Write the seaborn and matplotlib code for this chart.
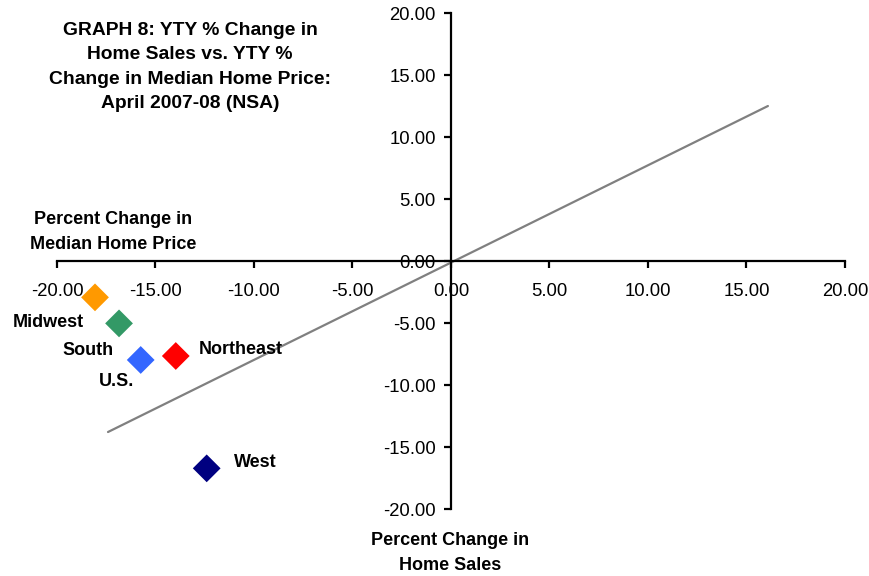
import matplotlib
matplotlib.use("Agg")
import matplotlib.pyplot as plt
import seaborn as sns
import pandas as pd

# Year-over-year % change, April 2007-08 (NSA)
regions = ["Midwest", "South", "U.S.", "Northeast", "West"]
sales_change = [-18.07, -16.85, -15.75, -13.97, -12.40]
price_change = [-2.93, -5.03, -7.98, -7.66, -16.72]
colors = ["#FF9900", "#339966", "#3366FF", "#FF0000", "#000080"]

# Trend line endpoints (sales %, price %)
trend_x = [-17.41, 16.09]
trend_y = [-13.79, 12.50]

ticks = [-20, -15, -10, -5, 0, 5, 10, 15, 20]

sns.set_theme(style="white")
plt.rcParams["font.family"] = ["Liberation Sans", "DejaVu Sans"]
plt.rcParams["text.color"] = "black"

df = pd.DataFrame({"region": regions, "sales": sales_change, "price": price_change})

fig = plt.figure(figsize=(8.7, 5.76), dpi=100)
ax = fig.add_axes([0.0655, 0.1163, 0.9057, 0.8611])

sns.lineplot(x=trend_x, y=trend_y, ax=ax, color="#808080", linewidth=1.6,
             zorder=2, legend=False)
sns.scatterplot(data=df, x="sales", y="price", hue="region",
                palette=dict(zip(regions, colors)), marker="D", s=200,
                edgecolor="none", ax=ax, legend=False, zorder=3)

ax.set_xlim(-20, 20)
ax.set_ylim(-20, 20)
ax.set_xticks(ticks)
ax.set_yticks(ticks)
ax.set_xticklabels([f"{t:.2f}" for t in ticks])
ax.set_yticklabels([f"{t:.2f}" for t in ticks])

for side in ["top", "right"]:
    ax.spines[side].set_visible(False)
ax.spines["left"].set_position(("data", 0))
ax.spines["bottom"].set_position(("data", 0))
for side in ["left", "bottom"]:
    ax.spines[side].set_color("black")
    ax.spines[side].set_linewidth(1.6)
ax.tick_params(axis="both", which="major", bottom=True, left=True,
               direction="out", length=5, width=1.6,
               color="black", labelsize=13.3, labelcolor="black")
ax.tick_params(axis="x", pad=11)
ax.tick_params(axis="y", pad=6)
ax.set_xlabel("")
ax.set_ylabel("")
ax.grid(False)

# Region labels, offset in pixels from each marker
offsets = {
    "Midwest": (-47, -25, "center"),
    "South": (-31, -27, "center"),
    "U.S.": (-24, -22, "center"),
    "Northeast": (23, 6, "left"),
    "West": (27, 6, "left"),
}
for name, x, y in zip(regions, sales_change, price_change):
    dx, dy, ha = offsets[name]
    ax.annotate(name, (x, y), xytext=(dx, dy), textcoords="offset pixels",
                ha=ha, va="center", fontsize=13, fontweight="bold",
                color="black")

fig.text(190 / 870, 1 - 67 / 576,
         "GRAPH 8: YTY % Change in\nHome Sales vs. YTY %\nChange in Median Home Price:\nApril 2007-08 (NSA)",
         ha="center", va="center", fontsize=13.9, fontweight="bold",
         linespacing=1.55, color="black")
fig.text(113 / 870, 1 - 232 / 576, "Percent Change in\nMedian Home Price",
         ha="center", va="center", fontsize=13, fontweight="bold",
         linespacing=1.6, color="black")
fig.text(450 / 870, 1 - 553 / 576, "Percent Change in\nHome Sales",
         ha="center", va="center", fontsize=13, fontweight="bold",
         linespacing=1.6, color="black")

fig.savefig("out.png", dpi=100, facecolor="white")
